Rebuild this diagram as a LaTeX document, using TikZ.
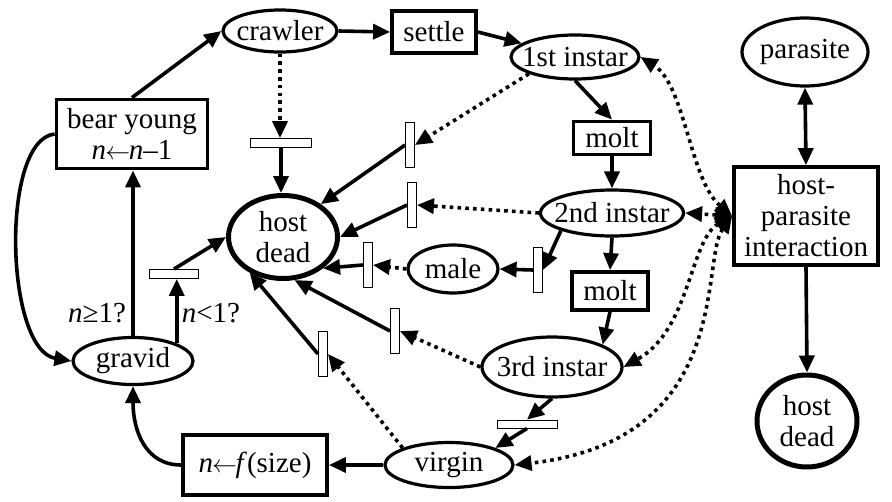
\documentclass[tikz,border=0pt]{standalone}
\usepackage{fontspec}
\setmainfont{Liberation Serif}
\usetikzlibrary{arrows.meta,shapes.geometric}
\newcommand{\larr}{\kern-0.03em\ensuremath{\leftarrow}\kern-0.05em}
\begin{document}
\begin{tikzpicture}[x=1pt,y=-1pt,
 every node/.style={font=\fontsize{29}{31}\selectfont},
 ell/.style={ellipse,draw,line width=3.2pt,inner xsep=-40pt,inner ysep=-15pt,align=center},
 dead/.style={ell,line width=5pt},
 box/.style={rectangle,draw,line width=3.8pt,inner sep=0pt,align=center},
 bar/.style={rectangle,draw,line width=0.9pt,fill=white,inner sep=0pt},
 vbar/.style={bar,minimum width=9pt,minimum height=45pt},
 hbar/.style={bar,minimum width=61pt,minimum height=9pt},
 arr/.style={line width=3.6pt,-{Triangle[length=17pt,width=15pt]}},
 dotarr/.style={arr,dash pattern=on 3.6pt off 4.2pt},
 darr/.style={line width=3.6pt,dash pattern=on 3.6pt off 4.2pt,{Triangle[length=17pt,width=15pt]}-{Triangle[length=17pt,width=15pt]}},
 barr/.style={line width=3.6pt,{Triangle[length=17pt,width=15pt]}-{Triangle[length=17pt,width=15pt]}},
 lbl/.style={inner sep=0pt}
]
\useasboundingbox (0,0) rectangle (892,501);

\node[ell,minimum width=114pt,minimum height=42pt] (crawler) at (280,31) {crawler};
\node[box,minimum width=84pt,minimum height=42pt] (settle) at (434,32) {settle};
\node[ell,minimum width=128pt,minimum height=44pt] (first) at (575,57) {1st instar};
\node[box,minimum width=77pt,minimum height=33pt] (molt1) at (612,138) {molt};
\node[ell,minimum width=143pt,minimum height=46pt] (second) at (612,213) {2nd instar};
\node[box,minimum width=76pt,minimum height=38pt] (molt2) at (610,291) {molt};
\node[ell,minimum width=140pt,minimum height=60pt] (third) at (552,367) {3rd instar};
\node[ell,minimum width=128pt,minimum height=45pt] (virgin) at (449,465) {virgin};
\node[box,minimum width=144pt,minimum height=60pt] (nf) at (255,465) {\textit{n}\larr\textit{f}(size)};
\node[ell,minimum width=120pt,minimum height=47pt] (gravid) at (133,361) {gravid};
\node[box,minimum width=151pt,minimum height=69pt] (bear) at (132,134) {bear young\\\textit{n}\larr\textit{n}–1};
\node[dead,minimum width=109pt,minimum height=83pt] (hd) at (283,237) {host\\dead};
\node[ell,minimum width=90pt,minimum height=48pt] (male) at (453,269) {male};
\node[ell,minimum width=126pt,minimum height=68pt] (parasite) at (805,52) {parasite};
\node[box,minimum width=144pt,minimum height=98pt] (hpi) at (806,216) {host-\\parasite\\interaction};
\node[dead,minimum width=100pt,minimum height=92pt] (hd2) at (807,421) {host\\dead};

\node[hbar] (b0) at (281,143) {};
\node[vbar] (b1) at (410,145) {};
\node[vbar] (b2) at (412,205) {};
\node[vbar] (b3) at (368,265) {};
\node[vbar] (b4) at (538,270) {};
\node[vbar] (b5) at (395,331) {};
\node[vbar] (b6) at (323,354) {};
\node[hbar,minimum width=49pt] (b7) at (174,274) {};
\node[hbar,minimum width=60pt,minimum height=8pt] (b8) at (527,424) {};

\node[lbl] (lge) at (97,313) {\textit{n}≥1?};
\node[lbl] (llt) at (211,313) {\textit{n}<1?};

\draw[arr] (bear.north) -- (crawler.west);
\draw[arr] (crawler.east) -- (settle.west);
\draw[arr] (settle.east) -- (first);
\draw[arr] (first.south) -- (molt1.north);
\draw[arr] (molt1.south) -- (second.north);
\draw[arr] (second.south) -- (molt2.north);
\draw[arr] (molt2.south) -- (third.north east);
\draw[arr] (third.south) -- (b8.north);
\draw[arr] (b8.south) -- (virgin.north east);
\draw[arr] (virgin.west) -- (nf.east);
\draw[arr] (nf.west) .. controls (145,465) and (133,430) .. (gravid.south);
\draw[arr] (gravid.north) -- (gravid.north |- bear.south);
\draw[arr] (gravid.22) -- (gravid.22 |- b7.south);
\draw[arr] (b7.north) -- (hd.west);
\draw[arr] (bear.west) .. controls (0,140) and (5,350) .. (gravid.west);
\draw[dotarr] (crawler.south) -- (crawler.south |- b0.north);
\draw[arr] (b0.south) -- (b0.south |- hd.north);
\draw[dotarr] (first.200) -- (b1.east);
\draw[arr] (b1.west) -- (hd.41);
\draw[dotarr] (second.west) -- (b2.east);
\draw[arr] (b2.west) -- (hd.east);
\draw[arr] (second.199) -- (b4.east);
\draw[arr] (b4.west) -- (male.east);
\draw[dotarr] (male.west) -- (b3.east);
\draw[arr] (b3.west) -- (hd.-38);
\draw[dotarr] (third.west) -- (b5.east);
\draw[arr] (b5.west) -- (hd.-75);
\draw[dotarr] (virgin.north west) -- (b6.east);
\draw[arr] (b6.west) -- (hd.-133);
\draw[barr] (parasite.south) -- (hpi.north);
\draw[arr] (hpi.south) -- (hd2.north);
\draw[darr] (hpi.west) .. controls (690,180) and (685,85) .. (first.east);
\draw[darr] (hpi.west) -- (second.east);
\draw[darr] (hpi.west) .. controls (690,240) and (690,330) .. (third.east);
\draw[darr] (hpi.west) .. controls (700,260) and (735,440) .. (virgin.east);
\end{tikzpicture}
\end{document}
